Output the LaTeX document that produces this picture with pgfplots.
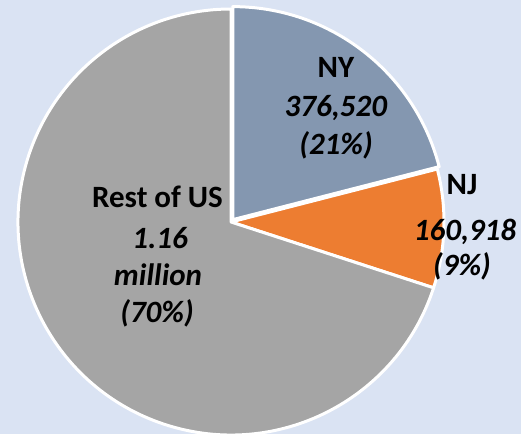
\documentclass[border=0pt]{standalone}
\usepackage{fontspec}
\setmainfont{Carlito}
\usepackage{pgfplots}
\usepackage{pgfplotstable}
\pgfplotsset{compat=1.18}
\definecolor{bg}{RGB}{218,227,243}
\definecolor{nycol}{RGB}{132,151,176}
\definecolor{njcol}{RGB}{237,125,49}
\definecolor{restcol}{RGB}{165,165,165}

% share (percent), colour, explode offset (px)
\pgfplotstableread{
name value color explode
NY 21 nycol 3
NJ 9 njcol 0
Rest 70 restcol 0
}\pietable

\begin{document}
\begin{tikzpicture}
\begin{axis}[width=521pt,height=434pt,scale only axis,
  xmin=0,xmax=521,ymin=0,ymax=434,hide axis,clip=true]
\fill[bg] (axis cs:0,0) rectangle (axis cs:521,434);
\pgfplotstablegetrowsof{\pietable}
\pgfmathtruncatemacro\nrows{\pgfplotsretval-1}
\gdef\curangle{90}
\pgfplotsforeachungrouped \i in {0,...,\nrows}{%
  \pgfplotstablegetelem{\i}{value}\of\pietable \let\val\pgfplotsretval
  \pgfplotstablegetelem{\i}{color}\of\pietable \let\col\pgfplotsretval
  \pgfplotstablegetelem{\i}{explode}\of\pietable \let\ex\pgfplotsretval
  \pgfmathsetmacro\endangle{\curangle-3.6*\val}%
  \pgfmathsetmacro\midangle{(\curangle+\endangle)/2}%
  \pgfmathsetmacro\cx{231+\ex*cos(\midangle)}%
  \pgfmathsetmacro\cy{212+\ex*sin(\midangle)}%
  \edef\temp{\noexpand\filldraw[fill=\col,draw=white,line width=3pt,line join=round]
    (axis cs:\cx,\cy) -- ++(\curangle:213pt) arc[start angle=\curangle,end angle=\endangle,radius=213pt] -- cycle;}%
  \temp
  \global\let\curangle\endangle
}
\tikzset{lab/.style={anchor=base,inner sep=0pt,font=\fontsize{31}{38}\selectfont\bfseries}}
\node[lab] at (axis cs:336,356) {NY};
\node[lab] at (axis cs:336,317) {\textit{376,520}};
\node[lab] at (axis cs:336,279) {\textit{(21\%)}};
\node[lab] at (axis cs:462,239) {NJ};
\node[lab] at (axis cs:465,194) {\textit{160,918}};
\node[lab] at (axis cs:462,159) {\textit{(9\%)}};
\node[lab] at (axis cs:157.5,226) {Rest of US};
\node[lab] at (axis cs:160,186) {\textit{1.16}};
\node[lab] at (axis cs:158,149) {\textit{million}};
\node[lab] at (axis cs:157,112) {\textit{(70\%)}};
\end{axis}
\pgfresetboundingbox
\path[use as bounding box] (current axis.south west) rectangle (current axis.north east);
\end{tikzpicture}
\end{document}
